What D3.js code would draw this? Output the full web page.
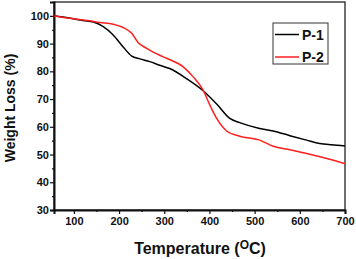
<!DOCTYPE html>
<html lang="en">
<head>
<meta charset="UTF-8">
<title>TGA</title>
<script src="https://d3js.org/d3.v7.min.js"></script>
<style>
  body { margin: 0; padding: 0; background: #fff; }
  svg { font-family: Arial, "Liberation Sans", sans-serif; }
</style>
</head>
<body>
<div id="chart"></div>
<script>
// data
var tempP1 = [56, 90, 120, 143, 165, 187, 209, 228, 246, 268, 290, 312, 349, 386, 416, 445, 467, 511, 541, 578, 615, 644, 670, 700];
var lossP1 = [100, 99.2, 98.3, 97.8, 96.1, 93.1, 88.8, 85.5, 84.5, 83.5, 82.2, 81, 77.4, 73, 68.2, 63, 61.5, 59.4, 58.5, 56.8, 55.2, 54, 53.5, 53.1];
var tempP2 = [56, 91, 135, 157, 187, 209, 228, 242, 261, 290, 305, 342, 364, 386, 401, 416, 438, 467, 511, 541, 578, 615, 666, 700];
var lossP2 = [100, 99.1, 98.2, 97.6, 97, 95.8, 93.7, 90.4, 88.3, 85.8, 84.7, 81.6, 78, 73.2, 67.8, 63, 58.5, 56.6, 55.2, 53, 51.7, 50.4, 48.3, 46.7];
var xTicks = [100, 200, 300, 400, 500, 600, 700];
var yTicks = [30, 40, 50, 60, 70, 80, 90, 100];
var seriesNames = ["P-1", "P-2"];
var seriesColors = ["#000000", "#ff1f1f"];

var W = 356, H = 259;
var mLeft = 54, mRight = 345, mTop = 2, mBottom = 210;

var svg = d3.select("#chart").append("svg")
    .attr("width", W)
    .attr("height", H);

var x = d3.scaleLinear().domain([56, 700]).range([mLeft, mRight]);
var y = d3.scaleLinear().domain([30, 105]).range([mBottom, mTop]);

// frame
svg.append("rect")
    .attr("x", mLeft).attr("y", mTop)
    .attr("width", mRight - mLeft).attr("height", mBottom - mTop)
    .attr("fill", "none").attr("stroke", "#222").attr("stroke-width", 1.3);

// minor ticks
var xMinor = d3.range(150, 700, 100);
var yMinor = d3.range(35, 105, 10);

var xAxis = d3.axisBottom(x).tickValues(xTicks).tickSize(4).tickPadding(3);
var yAxis = d3.axisLeft(y).tickValues(yTicks).tickSize(4).tickPadding(1);

var gx = svg.append("g").attr("transform", "translate(0," + mBottom + ")").call(xAxis);
var gy = svg.append("g").attr("transform", "translate(" + mLeft + ",0)").call(yAxis);

svg.append("g").attr("transform", "translate(0," + mBottom + ")")
    .call(d3.axisBottom(x).tickValues(xMinor).tickSize(2).tickFormat(""))
    .select(".domain").remove();
svg.append("g").attr("transform", "translate(" + mLeft + ",0)")
    .call(d3.axisLeft(y).tickValues(yMinor).tickSize(2).tickFormat(""))
    .select(".domain").remove();

svg.selectAll(".domain").attr("stroke", "#111").attr("stroke-width", 2);
svg.selectAll(".tick line").attr("stroke", "#111").attr("stroke-width", 1.2);
svg.selectAll(".tick text")
    .attr("fill", "#111")
    .style("font-size", "11px")
    .style("font-weight", "bold");

// lines
var line = d3.line()
    .x(function (d) { return x(d[0]); })
    .y(function (d) { return y(d[1]); })
    .curve(d3.curveMonotoneX);

var series = [d3.zip(tempP1, lossP1), d3.zip(tempP2, lossP2)];
var plot = svg.append("g");
series.forEach(function (pts, i) {
    plot.append("path")
        .datum(pts)
        .attr("d", line)
        .attr("fill", "none")
        .attr("stroke", seriesColors[i])
        .attr("stroke-width", 1.5);
});

// legend
var lg = svg.append("g").attr("transform", "translate(273,23)");
lg.append("rect")
    .attr("width", 55).attr("height", 41)
    .attr("fill", "#fff").attr("stroke", "#333").attr("stroke-width", 1);
seriesNames.forEach(function (name, i) {
    var yy = 11.5 + i * 22.5;
    lg.append("line")
        .attr("x1", 2).attr("x2", 26)
        .attr("y1", yy).attr("y2", yy)
        .attr("stroke", seriesColors[i]).attr("stroke-width", 1.5);
    lg.append("text")
        .attr("x", 29).attr("y", yy + 5)
        .style("font-size", "14px").style("font-weight", "bold")
        .attr("fill", "#111")
        .text(name);
});

// axis titles
var xt = svg.append("text")
    .attr("x", 200).attr("y", 254)
    .attr("text-anchor", "middle")
    .style("font-size", "16px").style("font-weight", "bold")
    .attr("fill", "#111");
xt.append("tspan").text("Temperature (");
xt.append("tspan").attr("dy", -5).style("font-size", "12px").text("O");
xt.append("tspan").attr("dy", 5).text("C)");

svg.append("text")
    .attr("transform", "translate(15,108) rotate(-90)")
    .attr("text-anchor", "middle")
    .style("font-size", "14px").style("font-weight", "bold")
    .attr("fill", "#111")
    .text("Weight Loss (%)");
</script>
</body>
</html>
